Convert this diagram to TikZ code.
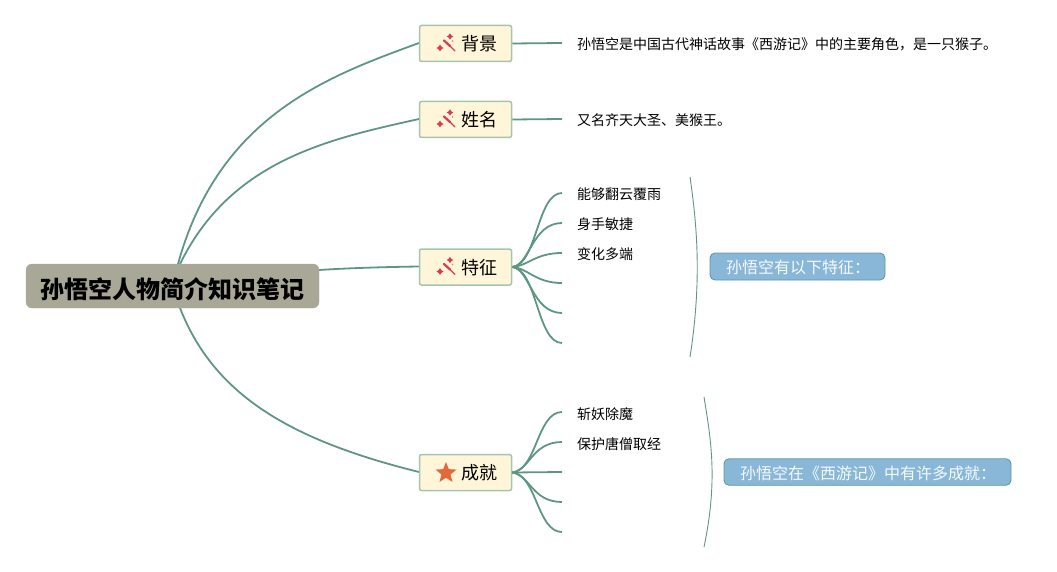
\documentclass[tikz,border=0pt]{standalone}
\usepackage{fontspec}
\setmainfont{Noto Sans CJK SC}
\usetikzlibrary{shapes.geometric}
\definecolor{linec}{HTML}{5F9682}
\definecolor{topicfill}{HTML}{FFF5D8}
\definecolor{topicline}{HTML}{A5C6AE}
\definecolor{rootfill}{HTML}{A9A897}
\definecolor{bluefill}{HTML}{88B7D7}
\definecolor{blueline}{HTML}{5F9AA0}
\definecolor{wand}{HTML}{DB3A55}
\definecolor{staror}{HTML}{E5683A}
\tikzset{
  conn/.style={draw=linec,line width=1.8pt},
  thinconn/.style={draw=linec,line width=0.9pt},
  topic/.style={draw=topicline,fill=topicfill,line width=1.5pt,rounded corners=2pt,minimum width=92pt,minimum height=36pt,inner sep=0pt,anchor=center},
  toptext/.style={font=\fontsize{18pt}{20pt}\selectfont,inner sep=0pt,anchor=center},
  leaf/.style={font=\fontsize{14pt}{16pt}\selectfont,inner sep=0pt,anchor=west,text=black},
  rootbox/.style={fill=rootfill,draw=rootfill,rounded corners=6pt,minimum width=293pt,minimum height=44pt,inner sep=0pt},
  roottext/.style={inner sep=0pt,font=\fontsize{24pt}{26pt}\selectfont\bfseries},
  sumbox/.style={fill=bluefill,draw=blueline,line width=0.9pt,rounded corners=5pt,inner sep=0pt},
  sumtext/.style={font=\fontsize{16pt}{18pt}\selectfont,text=white!93!bluefill,anchor=west,inner sep=0pt},
}
\newcommand{\wandicon}[2]{%
  \begin{scope}[shift={(#1,#2)}]
    \draw[wand,line width=2.2pt,line cap=round] (-3,-3) -- (3,2.5);
    \draw[wand,line width=1.3pt,line cap=round] (3,2.5) -- (8,7.5);
    \node[star,star points=4,star point ratio=1.8,fill=wand,inner sep=0pt,minimum size=6.5pt] at (3,-7) {};
    \node[star,star points=4,star point ratio=1.8,fill=wand,inner sep=0pt,minimum size=7pt] at (-7,4.5) {};
    \node[circle,fill=wand!70,inner sep=0pt,minimum size=1.8pt] at (5.5,-2.5) {};
  \end{scope}}
\begin{document}
\begin{tikzpicture}[x=1pt,y=-1pt]
\useasboundingbox (0,0) rectangle (1057,572);
% end points
\coordinate (r1) at (178,264);
\coordinate (r2) at (180,264);
\coordinate (r3) at (319,270);
\coordinate (r4) at (180,308);
\coordinate (e1) at (562,43);
\coordinate (e2) at (562,119);
\foreach \n/\y in {a/193,b/223,c/253,d/283,e/313,f/343}{\coordinate (t\n) at (562,\y);}
\foreach \n/\y in {a/412,b/442,c/472,d/502,e/532}{\coordinate (s\n) at (562,\y);}
\coordinate (b1a) at (690,177);
\coordinate (b1b) at (690,357);
\coordinate (b2a) at (704,397);
\coordinate (b2b) at (704,547);

% connectors under nodes
\coordinate (l1) at (419,43);
\coordinate (l2) at (419,119);
\coordinate (l3) at (419,266.5);
\coordinate (l4) at (419,472);
\draw[conn] (r1) .. controls (219,115) and (329,76) .. (l1);
\draw[conn] (r2) .. controls (231,160) and (329,139) .. (l2);
\draw[conn] (r3) .. controls (350,268) and (385,267) .. (l3);
\draw[conn] (r4) .. controls (214,395) and (290,440) .. (l4);

\node[rootbox] (root) at (172.5,286) {};
\node[roottext] (roott) at (172.5,289) {孙悟空人物简介知识笔记};
\node[topic] (bg) at (465.5,43.5) {};
\node[topic] (xm) at (465.5,119.5) {};
\node[topic] (tz) at (465.5,267) {};
\node[topic] (cj) at (465.5,472.5) {};
\node[toptext] (bgt) at (479,44) {背景};
\node[toptext] (xmt) at (479,120) {姓名};
\node[toptext] (tzt) at (479,267.5) {特征};
\node[toptext] (cjt) at (479,473) {成就};
\wandicon{447}{43.5}
\wandicon{447}{119.5}
\wandicon{447}{267}
\node[star,star points=5,star point ratio=2.3,fill=staror,inner sep=0pt,minimum size=22pt] (cjs) at (446,473) {};

\draw[conn] (bg.east) -- (e1);
\draw[conn] (xm.east) -- (e2);

\draw[conn] (tz.east) .. controls (537,265) and (537,193) .. (ta);
\draw[conn] (tz.east) .. controls (530,265) and (532,223) .. (tb);
\draw[conn] (tz.east) .. controls (528,266) and (535,253) .. (tc);
\draw[conn] (tz.east) .. controls (528,268) and (535,283) .. (td);
\draw[conn] (tz.east) .. controls (530,269) and (532,313) .. (te);
\draw[conn] (tz.east) .. controls (537,269) and (537,343) .. (tf);

\draw[conn] (cj.east) .. controls (537,470) and (537,412) .. (sa);
\draw[conn] (cj.east) .. controls (530,470) and (532,442) .. (sb);
\draw[conn] (cj.east) -- (sc);
\draw[conn] (cj.east) .. controls (530,475) and (532,502) .. (sd);
\draw[conn] (cj.east) .. controls (537,475) and (537,532) .. (se);

\node[leaf] (n1) at (577,44.5) {孙悟空是中国古代神话故事《西游记》中的主要角色，是一只猴子。};
\node[leaf] (n2) at (577,120.5) {又名齐天大圣、美猴王。};
\node[leaf] (ta1) at (577,194) {能够翻云覆雨};
\node[leaf] (tb1) at (577,224) {身手敏捷};
\node[leaf] (tc1) at (577,254) {变化多端};
\node[leaf] (sa1) at (577,414) {斩妖除魔};
\node[leaf] (sb1) at (577,444) {保护唐僧取经};

\draw[thinconn] (b1a) .. controls (697,225) and (702,280) .. (b1b);
\draw[thinconn] (b2a) .. controls (711,440) and (718,480) .. (b2b);

\node[sumbox,minimum width=175pt,minimum height=27pt] (s1) at (797.5,266.5) {};
\node[sumbox,minimum width=287pt,minimum height=26.5pt] (s2) at (867.5,472) {};
\node[sumtext] (s1t) at (726,267.5) {孙悟空有以下特征：};
\node[sumtext] (s2t) at (740,473) {孙悟空在《西游记》中有许多成就：};
\end{tikzpicture}
\end{document}
